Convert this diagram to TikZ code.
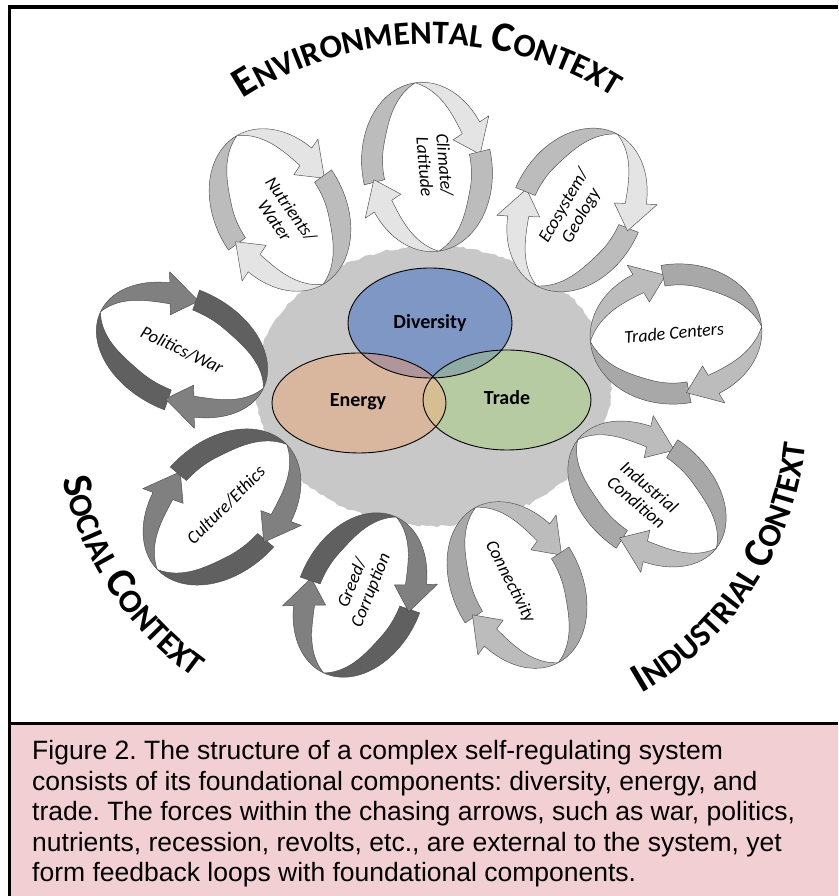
\documentclass[tikz,border=0pt]{standalone}
\usepackage{fontspec}
\setmainfont{Liberation Sans}
\newfontfamily\carl{Carlito}
\usetikzlibrary{decorations.text,decorations.pathmorphing}
\frenchspacing

\definecolor{envlight}{RGB}{228,228,228}
\definecolor{envdark}{RGB}{188,188,188}
\definecolor{indlight}{RGB}{188,188,188}
\definecolor{inddark}{RGB}{168,168,168}
\definecolor{soclight}{RGB}{128,128,128}
\definecolor{socdark}{RGB}{96,96,96}
\definecolor{edgecol}{RGB}{75,75,75}
\definecolor{blobcol}{RGB}{200,200,200}
\definecolor{capfill}{RGB}{242,207,210}
\definecolor{divcol}{RGB}{127,151,196}
\definecolor{enecol}{RGB}{217,182,158}
\definecolor{tracol}{RGB}{183,203,163}
\definecolor{decol}{RGB}{176,150,154}
\definecolor{dtcol}{RGB}{143,171,163}
\definecolor{etcol}{RGB}{214,190,146}
\definecolor{triplecol}{RGB}{170,162,150}

\def\lw{21}
\def\he{11}

% one twisted ribbon arrow: #1 tail angle, #2 crossing angle, #3 head base angle, #4 tip angle, #5 dark, #6 light
\newcommand\ribbon[6]{%
  \filldraw[fill=#5, ribbonedge]
    plot[domain=#1:#2, samples=30, variable=\q] ({\la*cos(\q)},{\lb*sin(\q)})
    -- plot[domain=#2:#1, samples=30, variable=\q] ({(\la-wid(\q,#2))*cos(\q)},{(\lb-wid(\q,#2))*sin(\q)})
    -- cycle;
  \filldraw[fill=#6, ribbonedge]
    plot[domain=#2:#3, samples=30, variable=\q] ({\la*cos(\q)},{\lb*sin(\q)})
    -- ({(\la+\he)*cos(#3)},{(\lb+\he)*sin(#3)})
    -- ({(\la-\lw/2)*cos(#4)},{(\lb-\lw/2)*sin(#4)})
    -- ({(\la-\lw-\he)*cos(#3)},{(\lb-\lw-\he)*sin(#3)})
    -- plot[domain=#3:#2, samples=30, variable=\q] ({(\la-wid(\q,#2))*cos(\q)},{(\lb-wid(\q,#2))*sin(\q)})
    -- cycle;
}
% #1 x, #2 y, #3 rotation, #4 a, #5 b, #6 dark, #7 light
\newcommand\chaseloop[7]{%
  \begin{scope}[shift={(#1,#2)}, rotate=#3]
    \def\la{#4}\def\lb{#5}%
    \ribbon{276}{180}{116}{94}{#6}{#7}
    \ribbon{96}{0}{-64}{-86}{#6}{#7}
  \end{scope}}
\newcommand\loopbg[5]{%
  \fill[white, shift={(#1,#2)}, rotate=#3] (0,0) ellipse [x radius=#4, y radius=#5];}

\newcommand\ctxbig{\carl\bfseries\fontsize{42}{44}\selectfont}
\newcommand\ctxsmall{\carl\bfseries\fontsize{33}{35}\selectfont}

\begin{document}
\begin{tikzpicture}[x=1pt, y=1pt,
  declare function={wid(\tq,\cq)=21*sin(min(90,1.4*abs(\tq-\cq)));},
  ribbonedge/.style={draw=edgecol, line width=0.45pt, line join=round},
  looptext/.style={font=\carl\itshape\fontsize{18}{20}\selectfont, align=center, inner sep=0pt},
  vennlabel/.style={font=\carl\bfseries\fontsize{20}{22}\selectfont, inner sep=0pt},
  captext/.style={font=\fontsize{26.5}{31}\selectfont, anchor=base west, inner sep=0pt},
  vennedge/.style={draw=black, line width=0.9pt}]
\useasboundingbox (0,0) rectangle (838,896);

% central grey field
\fill[blobcol, decorate, decoration={random steps, segment length=4pt, amplitude=1.3pt}]
  (433,510) ellipse [x radius=178, y radius=140];

% white interiors of the chasing-arrow loops
\loopbg{280}{686}{-60}{86}{65}
\loopbg{427}{729}{-82}{85}{65}
\loopbg{577}{686}{62}{86}{65}
\loopbg{676}{562}{5}{86}{70}
\loopbg{647}{402}{-38}{88}{62}
\loopbg{517}{311}{-62}{88}{64}
\loopbg{360}{301}{65}{86}{62}
\loopbg{222}{389}{44}{90}{65}
\loopbg{182}{546}{-25}{90}{62}

% environmental loops
\chaseloop{280}{686}{-60}{86}{65}{envdark}{envlight}
\chaseloop{427}{729}{-82}{85}{65}{envdark}{envlight}
\chaseloop{577}{686}{62}{86}{65}{envdark}{envlight}
% industrial loops
\chaseloop{676}{562}{5}{86}{70}{inddark}{indlight}
\chaseloop{647}{402}{-38}{88}{62}{inddark}{indlight}
\chaseloop{517}{311}{-62}{88}{64}{inddark}{indlight}
% social loops
\chaseloop{360}{301}{65}{86}{62}{socdark}{soclight}
\chaseloop{222}{389}{44}{90}{65}{socdark}{soclight}
\chaseloop{182}{546}{-25}{90}{62}{socdark}{soclight}

% loop labels
\node[looptext, rotate=-55] (nutr) at (283,681) {Nutrients/\\Water};
\node[looptext, rotate=-85] (clim) at (435,730) {Climate/\\Latitude};
\node[looptext, rotate=60] (ecos) at (573,685) {Ecosystem/\\Geology};
\node[looptext, rotate=5] (trcen) at (674,563) {Trade Centers};
\node[looptext, rotate=-40] (indc) at (643,401) {Industrial\\Condition};
\node[looptext, rotate=-63] (conn) at (510,314) {Connectivity};
\node[looptext, rotate=68] (greed) at (362,309) {Greed/\\Corruption};
\node[looptext, rotate=45] (cult) at (226,391) {Culture/Ethics};
\node[looptext, rotate=-25] (poli) at (182,546) {Politics/War};

% Venn diagram
\fill[enecol] (359,493) ellipse [x radius=87, y radius=50];
\fill[tracol] (507,496) ellipse [x radius=84, y radius=50];
\fill[divcol] (430,573) ellipse [x radius=82, y radius=55];
\begin{scope}
  \clip (430,573) ellipse [x radius=82, y radius=55];
  \fill[decol] (359,493) ellipse [x radius=87, y radius=50];
  \fill[dtcol] (507,496) ellipse [x radius=84, y radius=50];
  \clip (359,493) ellipse [x radius=87, y radius=50];
  \fill[triplecol] (507,496) ellipse [x radius=84, y radius=50];
\end{scope}
\begin{scope}
  \clip (359,493) ellipse [x radius=87, y radius=50];
  \clip (507,496) ellipse [x radius=84, y radius=50];
  \fill[etcol] (300,300) rectangle (600,700);
  \clip (430,573) ellipse [x radius=82, y radius=55];
  \fill[triplecol] (300,300) rectangle (600,700);
\end{scope}
\draw[vennedge] (359,493) ellipse [x radius=87, y radius=50];
\draw[vennedge] (507,496) ellipse [x radius=84, y radius=50];
\draw[vennedge] (430,573) ellipse [x radius=82, y radius=55];
\node[vennlabel] (div) at (430,573) {Diversity};
\node[vennlabel] (ene) at (358,494) {Energy};
\node[vennlabel] (tra) at (507,498) {Trade};

% context titles
\path[decorate, decoration={text along path, text align=center,
  text={|\ctxbig|E|\ctxsmall|NVIRONMENTAL |\ctxbig|C|\ctxsmall|ONTEXT}}]
  ([shift={(135:345)}]430,507) arc [start angle=135, end angle=45.8, radius=345];
\path[decorate, decoration={text along path, text align=center,
  text={|\ctxbig|S|\ctxsmall|OCIAL |\ctxbig|C|\ctxsmall|ONTEXT}}]
  ([shift={(181:331)}]386,488) arc [start angle=181, end angle=246, radius=331];
\path[decorate, decoration={text along path, text align=center,
  text={|\ctxbig|I|\ctxsmall|NDUSTRIAL |\ctxbig|C|\ctxsmall|ONTEXT}}]
  ([shift={(-68.4:328)}]480,488) arc [start angle=-68.4, end angle=1.6, radius=328];

% frame and caption
\fill[capfill] (11,0) rectangle (838,171);
\draw[line width=3.5pt] (9.5,0) -- (9.5,890.75);
\draw[line width=3.5pt] (7.75,889) -- (838,889);
\draw[line width=3.5pt] (7.75,172.5) -- (838,172.5);
\node[captext] (cap1) at (32,136) {Figure 2. The structure of a complex self-regulating system};
\node[captext] (cap2) at (32,105.5) {consists of its foundational components: diversity, energy, and};
\node[captext] (cap3) at (32,75) {trade. The forces within the chasing arrows, such as war, politics,};
\node[captext] (cap4) at (32,44.5) {nutrients, recession, revolts, etc., are external to the system, yet};
\node[captext] (cap5) at (32,14) {form feedback loops with foundational components.};
\end{tikzpicture}
\end{document}
